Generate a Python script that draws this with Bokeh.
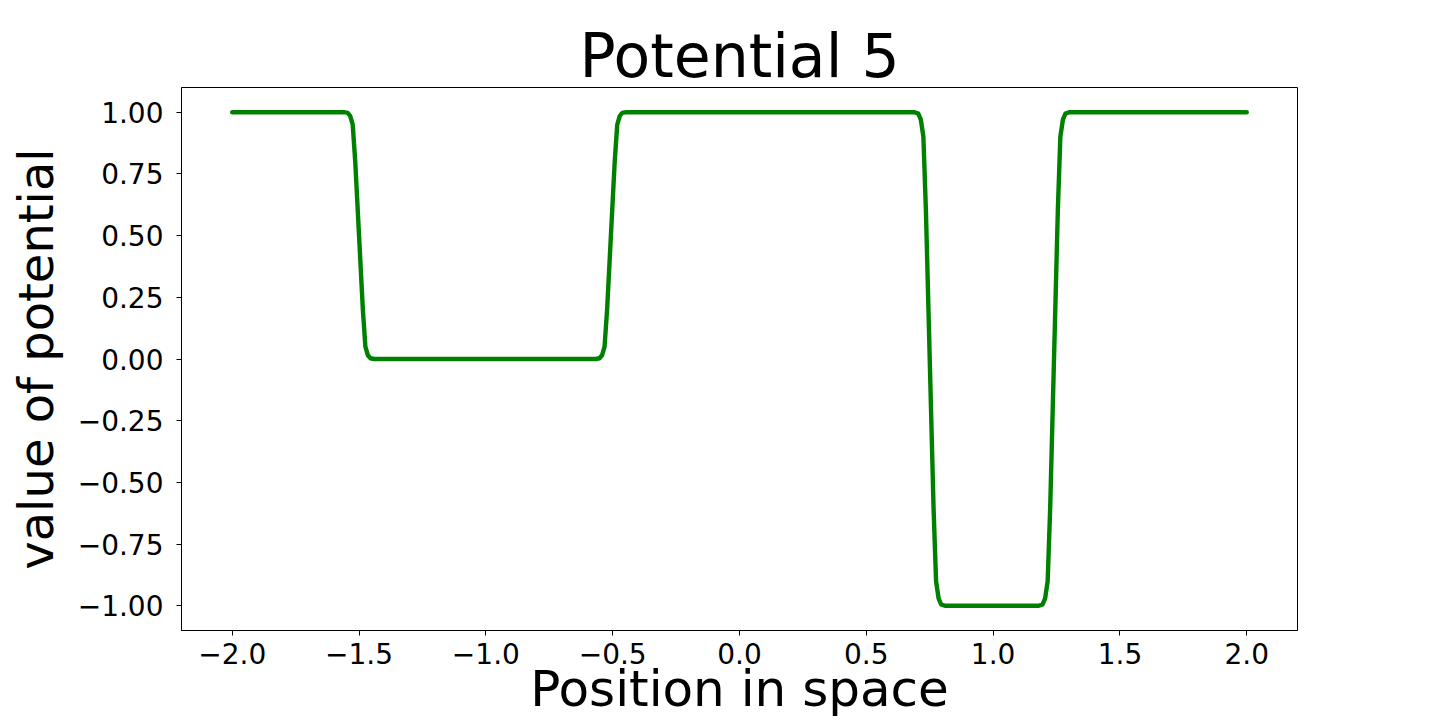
from bokeh.plotting import figure
from bokeh.models import Range1d, FixedTicker
from bokeh.embed import file_html
from bokeh.resources import INLINE

# ---- data ----
flat_start_x = [-2.0]
flat_start_y = [1.0]

step1_x = [-1.56, -1.545, -1.535, -1.525, -1.515, -1.505, -1.495, -1.485, -1.475, -1.465, -1.455, -1.44]
step1_y = [1.0, 0.997, 0.985, 0.95, 0.80, 0.60, 0.40, 0.20, 0.05, 0.015, 0.003, 0.0]

step2_x = [-0.567, -0.552, -0.542, -0.532, -0.522, -0.512, -0.502, -0.492, -0.482, -0.472, -0.462, -0.447]
step2_y = [0.0, 0.003, 0.015, 0.05, 0.20, 0.40, 0.60, 0.80, 0.95, 0.985, 0.997, 1.0]

step3_x = [0.69, 0.705, 0.715, 0.725, 0.735, 0.745, 0.755, 0.765, 0.775, 0.785, 0.795, 0.81]
step3_y = [1.0, 0.994, 0.97, 0.90, 0.60, 0.20, -0.20, -0.60, -0.90, -0.97, -0.994, -1.0]

step4_x = [1.18, 1.195, 1.205, 1.215, 1.225, 1.235, 1.245, 1.255, 1.265, 1.275, 1.285, 1.30]
step4_y = [-1.0, -0.994, -0.97, -0.90, -0.60, -0.20, 0.20, 0.60, 0.90, 0.97, 0.994, 1.0]

flat_end_x = [2.0]
flat_end_y = [1.0]

x_ticks = [-2.0, -1.5, -1.0, -0.5, 0.0, 0.5, 1.0, 1.5, 2.0]
y_ticks = [-1.0, -0.75, -0.5, -0.25, 0.0, 0.25, 0.5, 0.75, 1.0]

title_text = "Potential 5"
x_label_text = "Position in space"
y_label_text = "value of potential"

xs = flat_start_x + step1_x + step2_x + step3_x + step4_x + flat_end_x
ys = flat_start_y + step1_y + step2_y + step3_y + step4_y + flat_end_y

FONT = "DejaVu Sans"

p = figure(width=1440, height=720, output_backend="svg", toolbar_location=None,
           x_range=Range1d(-2.2, 2.2), y_range=Range1d(-1.1, 1.1),
           min_border_left=181, min_border_right=143,
           min_border_top=87, min_border_bottom=90)

p.background_fill_color = "white"
p.border_fill_color = "white"
p.outline_line_color = "black"
p.outline_line_width = 1
p.xgrid.visible = False
p.ygrid.visible = False

p.title.text = title_text
p.title.align = "center"
p.title.vertical_align = "bottom"
p.title.text_font = FONT
p.title.text_font_size = "60px"
p.title.text_font_style = "normal"
p.title.text_color = "black"
p.title.standoff = -7

p.line(xs, ys, line_color="#008000", line_width=4.4, line_join="round", line_cap="round")

for ax in (p.xaxis[0], p.yaxis[0]):
    ax.axis_line_color = "black"
    ax.axis_line_width = 1
    ax.major_tick_line_color = "black"
    ax.major_tick_line_width = 1
    ax.major_tick_out = 5
    ax.major_tick_in = 0
    ax.minor_tick_line_color = None
    ax.major_label_text_font = FONT
    ax.major_label_text_font_size = "28px"
    ax.major_label_text_color = "black"
    ax.axis_label_text_font = FONT
    ax.axis_label_text_font_style = "normal"
    ax.axis_label_text_color = "black"

p.xaxis[0].ticker = FixedTicker(ticks=x_ticks)
p.xaxis[0].major_label_overrides = {t: f"{t:.1f}".replace("-", "\u2212") for t in x_ticks}
p.xaxis[0].major_label_standoff = 7
p.xaxis[0].axis_label = x_label_text
p.xaxis[0].axis_label_text_font_size = "50px"
p.xaxis[0].axis_label_standoff = -7

p.yaxis[0].ticker = FixedTicker(ticks=y_ticks)
p.yaxis[0].major_label_overrides = {t: f"{t:.2f}".replace("-", "\u2212") for t in y_ticks}
p.yaxis[0].major_label_standoff = 13
p.yaxis[0].axis_label = y_label_text
p.yaxis[0].axis_label_text_font_size = "48px"
p.yaxis[0].axis_label_standoff = 11

open("out.html", "w").write(file_html(p, INLINE))
